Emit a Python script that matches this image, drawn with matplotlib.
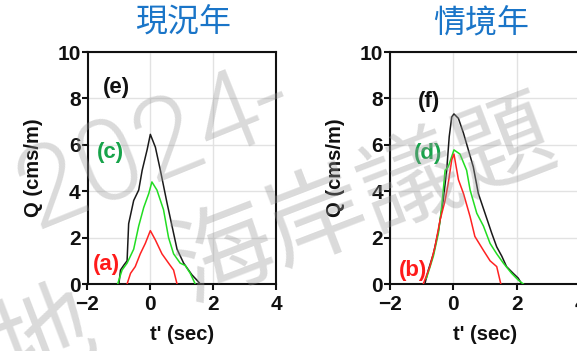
import matplotlib
matplotlib.use("Agg")
import matplotlib.pyplot as plt

# ---------------- data ----------------
titles = ["現況年", "情境年"]

# left panel (現況年)
e_t = [-1.00, -0.95, -0.85, -0.74, -0.69, -0.53, -0.37, -0.26, -0.10, 0.00, 0.16, 0.32, 0.53, 0.69, 0.85, 1.06, 1.32, 1.48, 1.59]
e_q = [0.00, 0.60, 0.80, 1.00, 2.60, 3.60, 4.05, 4.90, 5.80, 6.45, 5.90, 4.90, 3.50, 2.50, 1.50, 0.90, 0.40, 0.17, 0.00]
c_t = [-1.04, -0.90, -0.74, -0.53, -0.37, -0.21, -0.05, 0.05, 0.21, 0.42, 0.58, 0.74, 0.95, 1.11, 1.27, 1.43]
c_q = [0.00, 0.60, 0.90, 1.50, 2.50, 3.30, 3.90, 4.40, 4.05, 3.20, 2.00, 1.30, 0.90, 0.80, 0.46, 0.00]
a_t = [-0.74, -0.63, -0.48, -0.32, -0.16, 0.00, 0.16, 0.37, 0.58, 0.74, 0.85]
a_q = [0.00, 0.46, 0.75, 1.30, 1.75, 2.30, 1.90, 1.30, 0.90, 0.60, 0.00]

# right panel (情境年)
f_t = [-0.90, -0.79, -0.63, -0.47, -0.32, -0.21, -0.13, -0.05, 0.02, 0.16, 0.32, 0.47, 0.63, 0.79, 1.00, 1.21, 1.37, 1.53, 1.68, 1.89, 2.05, 2.16]
f_q = [0.00, 0.60, 1.30, 2.30, 3.60, 4.90, 6.35, 7.20, 7.33, 7.14, 6.50, 5.80, 5.05, 3.90, 3.05, 2.20, 1.60, 1.20, 0.75, 0.46, 0.25, 0.00]
d_t = [-0.85, -0.79, -0.63, -0.47, -0.37, -0.26, -0.16, -0.05, 0.02, 0.21, 0.42, 0.53, 0.74, 0.95, 1.16, 1.37, 1.58, 1.84, 2.05, 2.21]
d_q = [0.25, 0.50, 1.20, 2.20, 3.30, 4.90, 5.05, 5.50, 5.78, 5.60, 4.90, 4.05, 3.05, 2.50, 1.75, 1.30, 0.90, 0.46, 0.17, 0.00]
b_t = [-0.95, -0.74, -0.58, -0.42, -0.26, -0.16, -0.05, 0.02, 0.16, 0.32, 0.53, 0.68, 0.95, 1.16, 1.37, 1.50]
b_q = [0.00, 0.75, 1.60, 2.75, 3.60, 4.35, 5.35, 5.60, 4.50, 3.90, 2.90, 2.05, 1.45, 1.00, 0.75, 0.00]

panels = [
    [("(e)", e_t, e_q, -1.08, 8.45), ("(c)", c_t, c_q, -1.26, 5.65), ("(a)", a_t, a_q, -1.39, 0.82)],
    [("(f)", f_t, f_q, -0.77, 7.86), ("(d)", d_t, d_q, -0.80, 5.64), ("(b)", b_t, b_q, -1.27, 0.60)],
]
line_colors = ["#1a1a1a", "#22dd22", "#ff2222"]
label_colors = ["#111111", "#17a34a", "#ff1a1a"]

xticks = [-2, 0, 2, 4]
yticks = [0, 2, 4, 6, 8, 10]

# ---------------- figure ----------------
W, H = 577, 351
fig = plt.figure(figsize=(W / 100, H / 100), dpi=100)
fig.patch.set_facecolor("white")

axes_px = [(87.5, 52, 188.5, 232), (390, 52, 190, 232)]
title_px = [(183.5, 23), (481.5, 23)]

for i, (lx, ty, w, h) in enumerate(axes_px):
    ax = fig.add_axes([lx / W, (H - ty - h) / H, w / W, h / H])
    ax.set_xlim(-2, 4)
    ax.set_ylim(0, 10)
    ax.set_xticks(xticks)
    ax.set_yticks(yticks)
    ax.grid(True, color="#e2e2e2", linewidth=1.0)
    ax.set_axisbelow(True)
    for s in ax.spines.values():
        s.set_linewidth(1.5)
        s.set_color("#111111")
    ax.tick_params(axis="both", length=4, width=1.5, color="#111111")
    ax.tick_params(axis="x", pad=4)
    ax.tick_params(axis="y", pad=1)
    for lab in ax.get_xticklabels() + ax.get_yticklabels():
        lab.set_fontfamily("Liberation Sans")
        lab.set_fontweight("bold")
        lab.set_fontsize(15)
        lab.set_color("#111111")
    for (name, t, q, lxp, lyp), lc, tc in zip(panels[i], line_colors, label_colors):
        ax.plot(t, q, color=lc, linewidth=1.1, zorder=3)
        ax.text(lxp, lyp, name, color=tc, ha="center", va="center",
                fontfamily="Liberation Sans", fontweight="bold", fontsize=16, zorder=4)
    ax.set_ylabel("Q (cms/m)", fontfamily="Liberation Sans", fontweight="bold", fontsize=14.5, color="#111111")
    ax.set_xlabel("t' (sec)", fontfamily="Liberation Sans", fontweight="bold", fontsize=14.5, color="#111111")
    ax.yaxis.set_label_coords(-0.236, 0.5)
    ax.xaxis.set_label_coords(0.5, -0.175)
    tx, tyy = title_px[i]
    fig.text(tx / W, 1 - tyy / H, titles[i], color="#1a75c8", ha="center", va="center",
             fontfamily="Noto Sans CJK TC", fontsize=23)

# ---------------- watermark ----------------
wm = dict(color="#999999", alpha=0.36, rotation_mode="anchor",
          ha="center", va="center", zorder=10)
fig.text(155 / W, 1 - 148 / H, "2024-", fontsize=82, fontweight=300, rotation=22,
         family=["Roboto", "DejaVu Sans"], **wm)
fig.text(365 / W, 1 - 202 / H, "海岸議題", fontsize=72, fontweight=500, rotation=21,
         family=["Noto Sans CJK TC", "DejaVu Sans"], **wm)
fig.text(45 / W, 1 - 338 / H, "地", fontsize=72, fontweight=500, rotation=21,
         family=["Noto Sans CJK TC", "DejaVu Sans"], **wm)

fig.savefig("out.png", dpi=100, facecolor="white")
